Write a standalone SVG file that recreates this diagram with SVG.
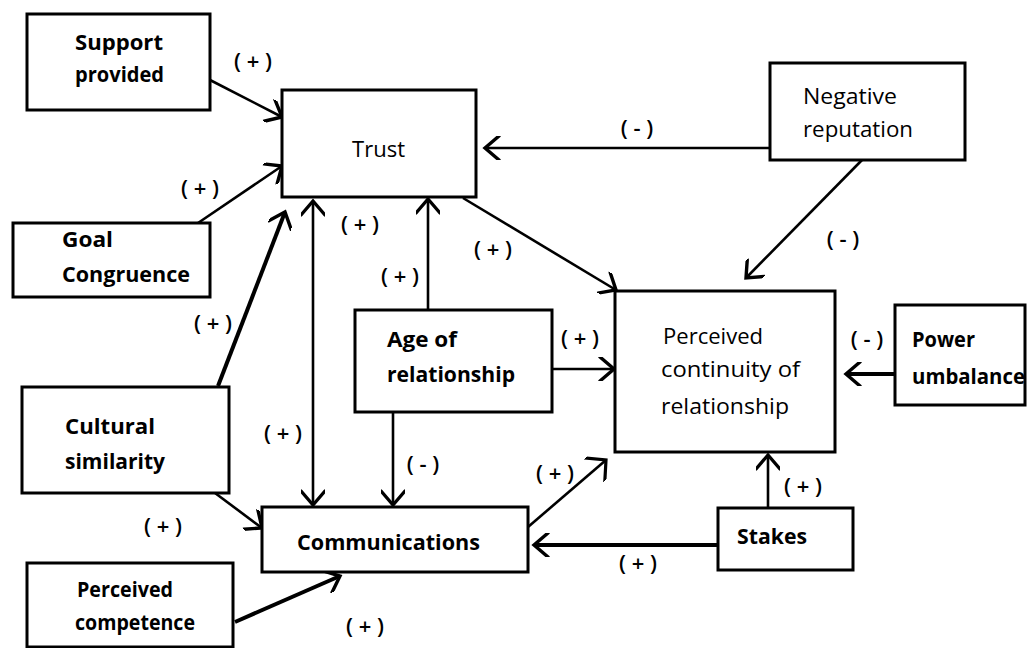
<svg xmlns="http://www.w3.org/2000/svg" width="1028" height="648" viewBox="0 0 1028 648">
  <style>
    .box { fill: #fff; stroke: #000; stroke-width: 3; }
    .t { font-family: "Open Sans", "Liberation Sans", sans-serif; font-size: 21px; fill: #000; }
    .b { font-weight: 700; }
    .m { font-weight: 400; }
    .lbl { font-family: "Open Sans", "Liberation Sans", sans-serif; font-size: 22px; font-weight: 600; fill: #000; text-anchor: middle; dominant-baseline: central; }
    .c { fill: none; stroke: #000; stroke-width: 2.6; }
    .thick { stroke-width: 4; }
  </style>
  <defs>
    <marker id="arr" viewBox="0 0 24 24" refX="20" refY="12" markerWidth="24" markerHeight="24" markerUnits="userSpaceOnUse" orient="auto-start-reverse">
      <path d="M6,0 L20,12 L6,24" fill="none" stroke="#000" stroke-width="3.4" stroke-linecap="round"/>
    </marker>
    <marker id="arrBig" viewBox="0 0 30 30" refX="27" refY="15" markerWidth="30" markerHeight="30" markerUnits="userSpaceOnUse" orient="auto">
      <path d="M3,-10 L27,15 L3,40" fill="none" stroke="#000" stroke-width="3.2" stroke-linecap="round"/>
    </marker>
  </defs>

  <!-- connectors -->
  <g id="connectors">
    <path class="c" d="M210,80 L282,117" marker-end="url(#arr)"/>
    <path class="c" d="M198,223 L282,166" marker-end="url(#arr)"/>
    <path class="c thick" d="M218,386 L285,212" marker-end="url(#arr)"/>
    <path class="c" d="M313,201 L313,505" marker-start="url(#arr)" marker-end="url(#arr)"/>
    <path class="c" d="M428,310 L428,199" marker-end="url(#arr)"/>
    <path class="c" d="M463,198 L616,290" marker-end="url(#arr)"/>
    <path class="c" d="M770,148 L485,148" marker-end="url(#arr)"/>
    <path class="c" d="M862,160 L746,278" marker-end="url(#arr)"/>
    <path class="c thick" d="M895,374 L846,374" marker-end="url(#arr)"/>
    <path class="c" d="M552,369 L614,369" marker-end="url(#arr)"/>
    <path class="c" d="M393,412 L393,505" marker-end="url(#arr)"/>
    <path class="c" d="M528,527 L606,460" marker-end="url(#arrBig)"/>
    <path class="c thick" d="M718,545 L534,545" marker-end="url(#arr)"/>
    <path class="c" d="M768,508 L768,455" marker-end="url(#arr)"/>
    <path class="c" d="M215,493 L262,528" marker-end="url(#arr)"/>
    <path class="c thick" d="M235,622 L340,576" marker-end="url(#arr)"/>
  </g>

  <!-- polarity labels -->
  <g id="labels">
    <text class="lbl" x="253" y="60">( + )</text>
    <text class="lbl" x="200" y="187">( + )</text>
    <text class="lbl" x="360" y="223">( + )</text>
    <text class="lbl" x="400" y="275">( + )</text>
    <text class="lbl" x="493" y="248">( + )</text>
    <text class="lbl" x="637" y="127">( - )</text>
    <text class="lbl" x="843" y="238">( - )</text>
    <text class="lbl" x="867" y="338">( - )</text>
    <text class="lbl" x="213" y="322">( + )</text>
    <text class="lbl" x="283" y="432">( + )</text>
    <text class="lbl" x="423" y="463">( - )</text>
    <text class="lbl" x="580" y="337">( + )</text>
    <text class="lbl" x="555" y="472">( + )</text>
    <text class="lbl" x="638" y="562">( + )</text>
    <text class="lbl" x="803" y="485">( + )</text>
    <text class="lbl" x="163" y="525">( + )</text>
    <text class="lbl" x="365" y="625">( + )</text>
  </g>

  <g id="support-provided">
    <rect class="box" x="27" y="14" width="183" height="96"/>
    <text class="t b" x="75" y="50" textLength="88" lengthAdjust="spacingAndGlyphs">Support</text>
    <text class="t b" x="75" y="82" textLength="89" lengthAdjust="spacingAndGlyphs">provided</text>
  </g>

  <g id="trust">
    <rect class="box" x="282" y="90" width="194" height="107"/>
    <text class="t m" x="352" y="157" textLength="53" lengthAdjust="spacingAndGlyphs">Trust</text>
  </g>

  <g id="negative-reputation">
    <rect class="box" x="770" y="63" width="195" height="97"/>
    <text class="t m" x="803" y="104" textLength="94" lengthAdjust="spacingAndGlyphs">Negative</text>
    <text class="t m" x="803" y="137" textLength="110" lengthAdjust="spacingAndGlyphs">reputation</text>
  </g>

  <g id="goal-congruence">
    <rect class="box" x="13" y="223" width="197" height="74"/>
    <text class="t b" x="62" y="247" textLength="51" lengthAdjust="spacingAndGlyphs">Goal</text>
    <text class="t b" x="62" y="282" textLength="128" lengthAdjust="spacingAndGlyphs">Congruence</text>
  </g>

  <g id="cultural-similarity">
    <rect class="box" x="22" y="387" width="207" height="106"/>
    <text class="t b" x="65" y="434" textLength="90" lengthAdjust="spacingAndGlyphs">Cultural</text>
    <text class="t b" x="65" y="469" textLength="100" lengthAdjust="spacingAndGlyphs">similarity</text>
  </g>

  <g id="perceived-competence">
    <rect class="box" x="27" y="563" width="206" height="84"/>
    <text class="t b" x="77" y="597" textLength="96" lengthAdjust="spacingAndGlyphs">Perceived</text>
    <text class="t b" x="75" y="630" textLength="120" lengthAdjust="spacingAndGlyphs">competence</text>
  </g>

  <g id="age-of-relationship">
    <rect class="box" x="355" y="310" width="197" height="102"/>
    <text class="t b" x="387" y="347" textLength="70" lengthAdjust="spacingAndGlyphs">Age of</text>
    <text class="t b" x="387" y="382" textLength="128" lengthAdjust="spacingAndGlyphs">relationship</text>
  </g>

  <g id="perceived-continuity">
    <rect class="box" x="615" y="291" width="220" height="161"/>
    <text class="t m" x="663" y="344" textLength="100" lengthAdjust="spacingAndGlyphs">Perceived</text>
    <text class="t m" x="661" y="377" textLength="139" lengthAdjust="spacingAndGlyphs">continuity of</text>
    <text class="t m" x="661" y="414" textLength="128" lengthAdjust="spacingAndGlyphs">relationship</text>
  </g>

  <g id="power-umbalance">
    <rect class="box" x="895" y="305" width="130" height="100"/>
    <text class="t b" x="912" y="347" textLength="63" lengthAdjust="spacingAndGlyphs">Power</text>
    <text class="t b" x="912" y="384" textLength="113" lengthAdjust="spacingAndGlyphs">umbalance</text>
  </g>

  <g id="communications">
    <rect class="box" x="262" y="507" width="266" height="65"/>
    <text class="t b" x="297" y="550" textLength="183" lengthAdjust="spacingAndGlyphs">Communications</text>
  </g>

  <g id="stakes">
    <rect class="box" x="718" y="508" width="135" height="62"/>
    <text class="t b" x="737" y="544" textLength="70" lengthAdjust="spacingAndGlyphs">Stakes</text>
  </g>
</svg>
